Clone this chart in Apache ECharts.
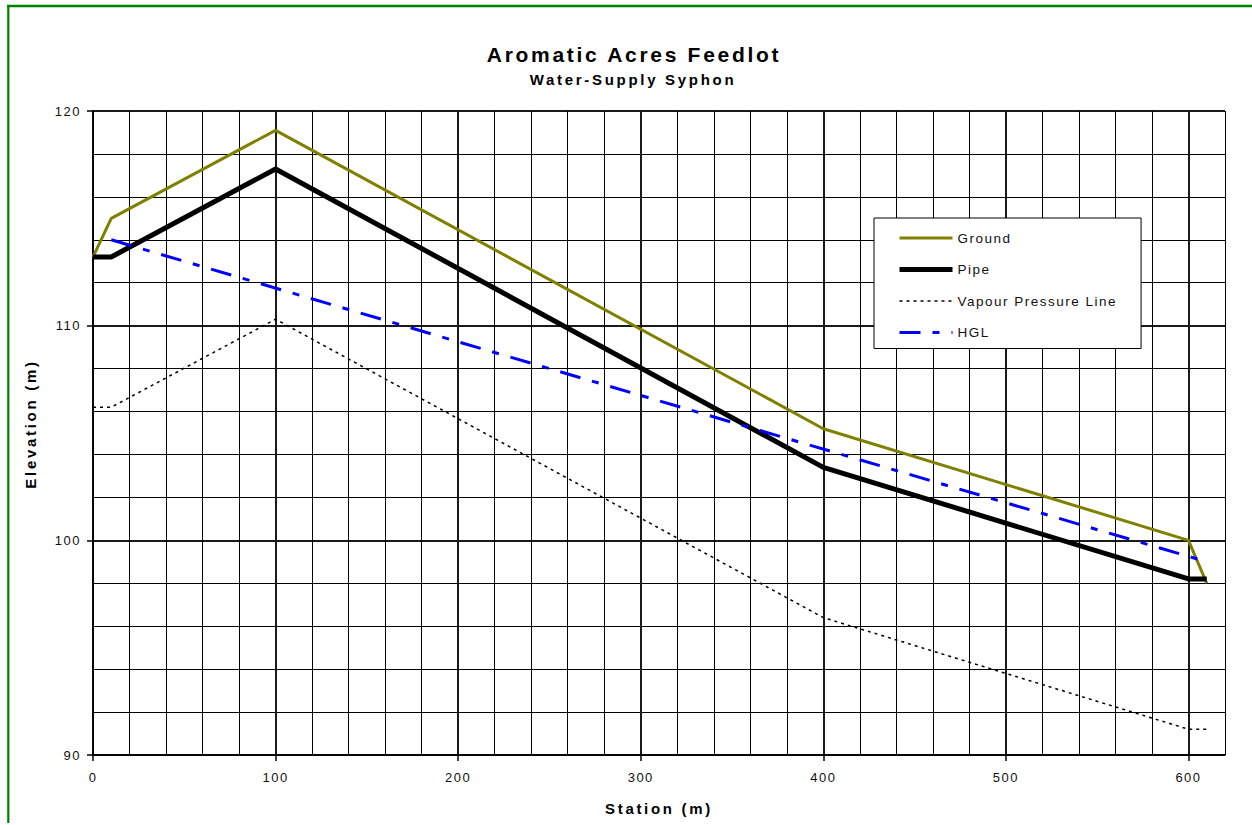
<!DOCTYPE html>
<html>
<head>
<meta charset="utf-8">
<title>Aromatic Acres Feedlot</title>
<script src="https://cdn.jsdelivr.net/npm/echarts@6/dist/echarts.min.js"></script>
<style>
  html, body { margin: 0; padding: 0; background: #fff; }
  #chart { width: 1252px; height: 825px; }
  /* the original chart is drawn with wide letter spacing */
  #chart text { letter-spacing: 1.5px; }
  #chart text[style*="bold"] { letter-spacing: 2.7px; }
</style>
</head>
<body>
<div id="chart"></div>
<script>
const FONT = "'Liberation Sans', Arial, sans-serif";

// survey points along the syphon
const stations = [0, 10, 100, 400, 600, 610];
const ground = [113.2, 115.0, 119.1, 105.2, 100.0, 98.0];
const pipe = [113.2, 113.2, 117.3, 103.4, 98.2, 98.2];
const vapour = [106.2, 106.2, 110.3, 96.4, 91.2, 91.2];

// hydraulic grade line
const hglStations = [10, 610];
const hgl = [114.0, 99.0];

const xTicks = [0, 100, 200, 300, 400, 500, 600];

const pairs = (xs, ys) => xs.map((x, i) => [x, ys[i]]);

const chart = echarts.init(document.getElementById("chart"), null, { renderer: "svg" });

const minorLine = { show: true, lineStyle: { color: "#000", width: 1 } };
const majorLine = { show: true, lineStyle: { color: "#1a1a1a", width: 2 } };

const option = {
  animation: false,
  backgroundColor: "#fff",
  textStyle: { fontFamily: FONT, color: "#000" },
  graphic: [
    // green frame of the sheet
    { type: "line", shape: { x1: 7, y1: 6, x2: 1252, y2: 6 }, style: { stroke: "#008000", lineWidth: 2.5 } },
    { type: "line", shape: { x1: 8.3, y1: 5, x2: 8.3, y2: 823 }, style: { stroke: "#008000", lineWidth: 2.2 } },
    {
      type: "text", x: 634, y: 54,
      style: { text: "Aromatic Acres Feedlot", fill: "#000", font: `bold 21px ${FONT}`, textAlign: "center", textVerticalAlign: "middle" },
    },
    {
      type: "text", x: 633, y: 79,
      style: { text: "Water-Supply Syphon", fill: "#000", font: `bold 15px ${FONT}`, textAlign: "center", textVerticalAlign: "middle" },
    },
  ],
  grid: { left: 93, right: 27, top: 111, bottom: 70 },
  legend: {
    data: ["Ground", "Pipe", "Vapour Pressure Line", "HGL"],
    orient: "vertical",
    left: 874,
    top: 218,
    itemWidth: 53,
    itemHeight: 14,
    itemGap: 17.5,
    padding: [13, 54, 9, 23],
    backgroundColor: "#fff",
    borderColor: "#000",
    borderWidth: 1,
    itemStyle: { opacity: 0 },
    lineStyle: { width: "inherit" },
    textStyle: { fontFamily: FONT, fontSize: 13.5, color: "#111" },
  },
  xAxis: [
    {
      type: "value", min: 0, max: 620, interval: 20,
      axisLine: { show: false }, axisTick: { show: false }, axisLabel: { show: false },
      splitLine: minorLine,
    },
    {
      type: "value", min: 0, max: 620, interval: 100, position: "bottom",
      axisLine: { show: true, lineStyle: { color: "#000", width: 1.5 } },
      axisTick: { show: true, inside: false, length: 6, customValues: xTicks, lineStyle: { color: "#000", width: 1.5 } },
      axisLabel: { customValues: xTicks, margin: 16, fontSize: 13, color: "#111", fontFamily: FONT },
      splitLine: majorLine,
      name: "Station (m)",
      nameLocation: "middle",
      nameGap: 46,
      nameTextStyle: { fontFamily: FONT, fontSize: 15, fontWeight: "bold", color: "#000" },
    },
  ],
  yAxis: [
    {
      type: "value", min: 90, max: 120, interval: 2,
      axisLine: { show: false }, axisTick: { show: false }, axisLabel: { show: false },
      splitLine: minorLine,
    },
    {
      type: "value", min: 90, max: 120, interval: 10, position: "left",
      axisLine: { show: true, lineStyle: { color: "#000", width: 1.5 } },
      axisTick: { show: true, inside: false, length: 6, lineStyle: { color: "#000", width: 1.5 } },
      axisLabel: { margin: 12, fontSize: 13, color: "#111", fontFamily: FONT },
      splitLine: majorLine,
      name: "Elevation (m)",
      nameLocation: "middle",
      nameGap: 55,
      nameTextStyle: { fontFamily: FONT, fontSize: 15, fontWeight: "bold", color: "#000", padding: [0, 0, 0, 18] },
    },
  ],
  series: [
    {
      name: "Ground", type: "line", xAxisIndex: 1, yAxisIndex: 1, symbol: "none",
      data: pairs(stations, ground),
      lineStyle: { color: "#808000", width: 3 },
      itemStyle: { color: "#808000" },
    },
    {
      name: "Pipe", type: "line", xAxisIndex: 1, yAxisIndex: 1, symbol: "none",
      data: pairs(stations, pipe),
      lineStyle: { color: "#000", width: 5 },
      itemStyle: { color: "#000" },
    },
    {
      name: "Vapour Pressure Line", type: "line", xAxisIndex: 1, yAxisIndex: 1, symbol: "none",
      data: pairs(stations, vapour),
      lineStyle: { color: "#000", width: 1.5, type: [3, 4] },
      itemStyle: { color: "#000" },
    },
    {
      name: "HGL", type: "line", xAxisIndex: 1, yAxisIndex: 1, symbol: "none",
      data: pairs(hglStations, hgl),
      lineStyle: { color: "#0000ff", width: 3, type: [21, 12, 7, 12] },
      itemStyle: { color: "#0000ff" },
    },
  ],
};

chart.setOption(option);
</script>
</body>
</html>
